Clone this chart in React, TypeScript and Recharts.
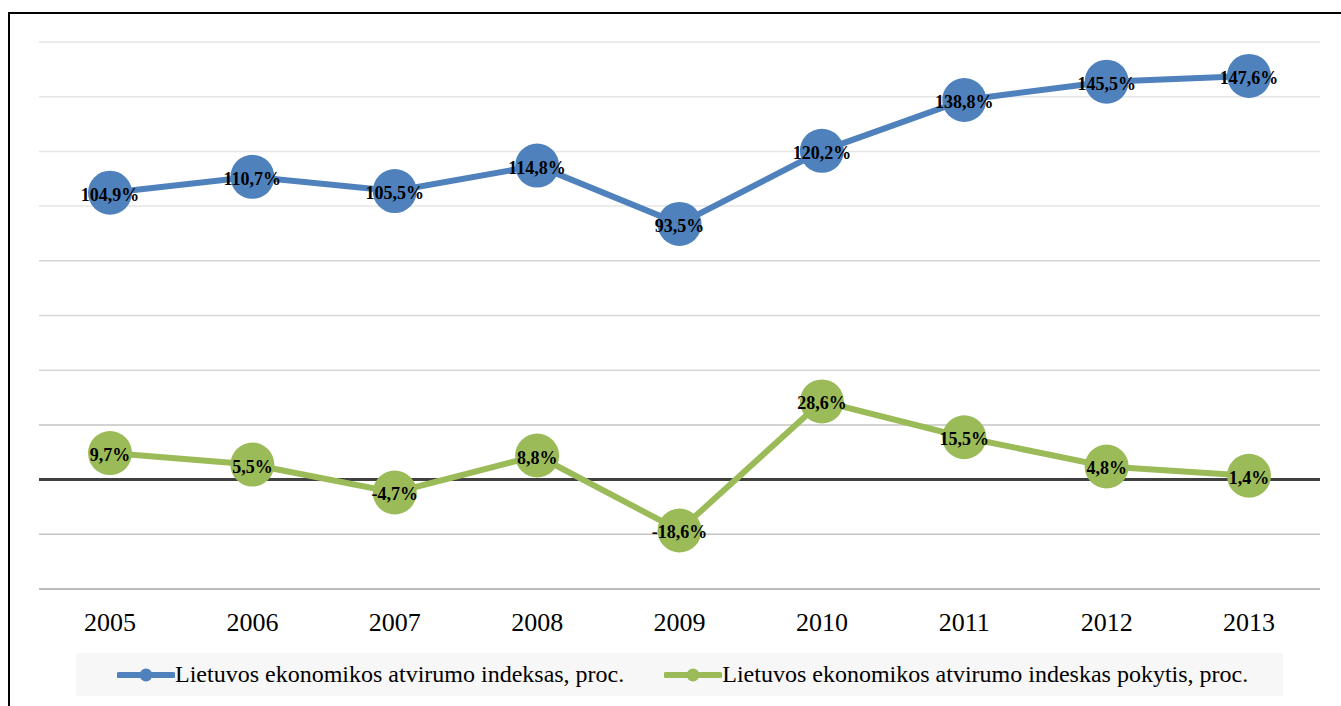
import { LineChart, Line, XAxis, YAxis, ReferenceLine, Legend } from "recharts";

const years = ["2005", "2006", "2007", "2008", "2009", "2010", "2011", "2012", "2013"];
const opennessIndex = [104.9, 110.7, 105.5, 114.8, 93.5, 120.2, 138.8, 145.5, 147.6];
const opennessChange = [9.7, 5.5, -4.7, 8.8, -18.6, 28.6, 15.5, 4.8, 1.4];
const yTicks = [-40, -20, 0, 20, 40, 60, 80, 100, 120, 140, 160];
const seriesNames = [
  "Lietuvos ekonomikos atvirumo indeksas, proc.",
  "Lietuvos ekonomikos atvirumo indeskas pokytis, proc.",
];

const data = years.map((year, i) => ({
  year,
  index: opennessIndex[i],
  change: opennessChange[i],
}));

const BLUE = "#4f81bd";
const GREEN = "#9bbb59";
const SERIF = "'Liberation Serif', 'Times New Roman', serif";

// grid gets a little darker toward the bottom, like the original
const gridColor = (v: number) => {
  if (v <= -40) return "#a6a6a6";
  if (v <= 20) return "#c4c4c4";
  if (v <= 80) return "#d6d6d6";
  return "#e6e6e6";
};

const fmt = (v: number) => `${v.toFixed(1).replace(".", ",")}%`;

const renderLabel = (props: any) => {
  const { x, y, value } = props;
  return (
    <text
      x={x}
      y={y + 2}
      textAnchor="middle"
      dominantBaseline="central"
      fontFamily={SERIF}
      fontWeight="bold"
      fontSize={18}
      fill="#000"
    >
      {fmt(value)}
    </text>
  );
};

const LegendBox = () => {
  const colors = [BLUE, GREEN];
  return (
    <div
      style={{
        height: 43,
        background: "#f7f7f7",
        display: "flex",
        alignItems: "center",
        fontFamily: SERIF,
        fontSize: 24,
        color: "#000",
      }}
    >
      {seriesNames.map((name, i) => (
        <div
          key={name}
          style={{ display: "flex", alignItems: "center", marginLeft: i === 0 ? 41 : 40 }}
        >
          <svg width={58} height={16}>
            <line x1={2} y1={8} x2={56} y2={8} stroke={colors[i]} strokeWidth={6} strokeLinecap="round" />
            <circle cx={29} cy={8} r={6.5} fill={colors[i]} />
          </svg>
          <span>{name}</span>
        </div>
      ))}
    </div>
  );
};

export default function App() {
  return (
    <div style={{ position: "absolute", left: 0, top: 0, width: 1341, height: 706, background: "#fff" }}>
      <div
        style={{
          position: "absolute",
          left: 8,
          top: 12,
          right: 0,
          bottom: 0,
          borderTop: "2px solid #000",
          borderLeft: "2px solid #000",
        }}
      />
      <LineChart
        width={1341}
        height={706}
        data={data}
        margin={{ top: 42, right: 21, bottom: 44, left: 39 }}
        style={{ position: "absolute", left: 0, top: 0 }}
      >
        {yTicks.map((t) =>
          t === 0 ? null : (
            <ReferenceLine key={t} y={t} stroke={gridColor(t)} strokeWidth={1.5} />
          )
        )}
        <ReferenceLine y={0} stroke="#404040" strokeWidth={3} />
        <XAxis
          dataKey="year"
          axisLine={false}
          tickLine={false}
          height={30}
          tickMargin={18}
          interval={0}
          padding={{ left: 71, right: 71 }}
          tick={{ fontSize: 26, fill: "#000", fontFamily: SERIF }}
        />
        <YAxis hide domain={[-40, 160]} ticks={yTicks} />
        <Legend
          verticalAlign="bottom"
          content={() => <LegendBox />}
          wrapperStyle={{ left: 76, top: 653, bottom: "auto", width: 1207, height: 43 }}
        />
        <Line
          dataKey="index"
          stroke={BLUE}
          strokeWidth={6}
          dot={{ r: 22, fill: BLUE, stroke: "none" }}
          activeDot={false}
          label={renderLabel}
          isAnimationActive={false}
        />
        <Line
          dataKey="change"
          stroke={GREEN}
          strokeWidth={6}
          dot={{ r: 22, fill: GREEN, stroke: "none" }}
          activeDot={false}
          label={renderLabel}
          isAnimationActive={false}
        />
      </LineChart>
    </div>
  );
}
